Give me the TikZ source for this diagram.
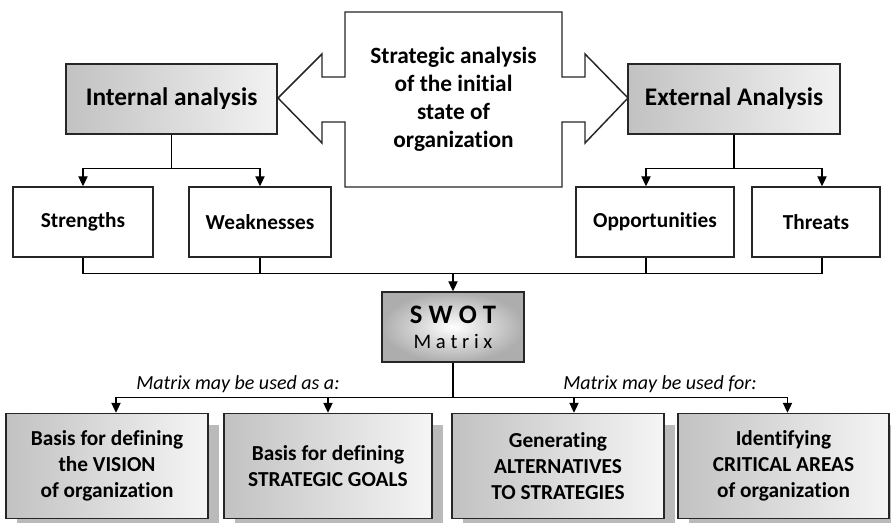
\documentclass[tikz,border=0pt]{standalone}
\usepackage{fontspec}
\setmainfont[Ligatures=NoCommon]{Carlito}
\usetikzlibrary{arrows.meta}
\usetikzlibrary{shadows}

\tikzset{
  wh/.style 2 args={minimum width=#1*0.75pt, minimum height=#2*0.75pt},
  plainbox/.style={draw=black!85, line width=1.1pt, fill=white, inner sep=0pt, align=center,
    font=\bfseries\fontsize{16}{19}\selectfont},
  headbox/.style={plainbox, left color=black!24, right color=black!5,
    font=\bfseries\fontsize{19}{22}\selectfont},
  usebox/.style={plainbox, left color=black!24, right color=black!4,
    font=\bfseries\fontsize{16}{19.5}\selectfont,
    drop shadow={shadow xshift=8.5pt, shadow yshift=-8.5pt, fill=black!27, opacity=1}},
  swotbox/.style={plainbox, inner color=white, outer color=black!32},
  arr/.style={-{Triangle[length=7.5pt,width=7pt]}},
  link/.style={line width=0.8pt},
  note/.style={font=\itshape\fontsize{15}{18}\selectfont},
}

\begin{document}
\begin{tikzpicture}[x=0.75pt,y=-0.75pt]
\useasboundingbox (0,0) rectangle (891,523);

% centre shape with two arrow heads
\draw[line width=1.1pt, draw=black!85, fill=white]
  (345,12) -- (562,12) -- (562,77) -- (585,77) -- (585,54) -- (628,98) -- (585,143)
  -- (585,122) -- (562,122) -- (562,187) -- (345,187) -- (345,122) -- (322,122)
  -- (322,143) -- (278,98) -- (322,54) -- (322,77) -- (345,77) -- cycle;
\node[align=center, font=\bfseries\fontsize{17.5}{21}\selectfont] (cen) at (453.5,99.5)
  {Strategic analysis\\of the initial\\state of\\organization};

% analysis
\node[headbox, wh={211}{70}] (int) at (171.5,99) {Internal analysis};
\node[headbox, wh={212}{70}] (ext) at (734,99) {External Analysis};

\node[plainbox, wh={140}{70}] (str) at (83,222) {Strengths};
\node[plainbox, wh={142}{70}] (wea) at (260,222) {Weaknesses};
\node[plainbox, wh={158}{70}] (opp) at (655,222) {Opportunities};
\node[plainbox, wh={128}{70}] (thr) at (816,222) {Threats};

% matrix
\node[swotbox, wh={142}{70}] (swot) at (453,327)
  {\fontsize{20}{20}\selectfont S W O T\\{\mdseries\fontsize{15.5}{20}\selectfont M a t r i x}};

\node[note] (asa) at (238,384) {Matrix may be used as a:};
\node[note] (for) at (660,384) {Matrix may be used for:};

% uses
\node[usebox, wh={202}{105}] (b1) at (107,466) {Basis for defining\\the VISION\\of organization};
\node[usebox, wh={208}{105}] (b2) at (328,466) {Basis for defining\\STRATEGIC GOALS};
\node[usebox, wh={212}{105}] (b3) at (558,466) {Generating\\ALTERNATIVES\\TO STRATEGIES};
\node[usebox, wh={211}{105}] (b4) at (783.5,466) {Identifying\\CRITICAL AREAS\\of organization};

% links
\draw[link] (int.south) -- ++(0,34) coordinate (ij);
\draw[link,arr] (ij) -| (str.north);
\draw[link,arr] (ij) -| (wea.north);
\draw[link] (ext.south) -- ++(0,34) coordinate (ej);
\draw[link,arr] (ej) -| ([xshift=-6.75pt]opp.north);
\draw[link,arr] (ej) -| ([xshift=4.5pt]thr.north);

\path (swot.north) ++(0,-18) coordinate (sj);
\draw[link] (str.south) |- (sj);
\draw[link] (wea.south) |- (sj);
\draw[link] ([xshift=-6.75pt]opp.south) |- (sj);
\draw[link] ([xshift=4.5pt]thr.south) |- (sj);
\draw[link,arr] (sj) -- (swot.north);

\draw[link] (swot.south) -- ++(0,35) coordinate (mj);
\draw[link,arr] (mj) -| ([xshift=6.75pt]b1.north);
\draw[link,arr] (mj) -| (b2.north);
\draw[link,arr] (mj) -| ([xshift=12pt]b3.north);
\draw[link,arr] (mj) -| ([xshift=3pt]b4.north);
\end{tikzpicture}
\end{document}
